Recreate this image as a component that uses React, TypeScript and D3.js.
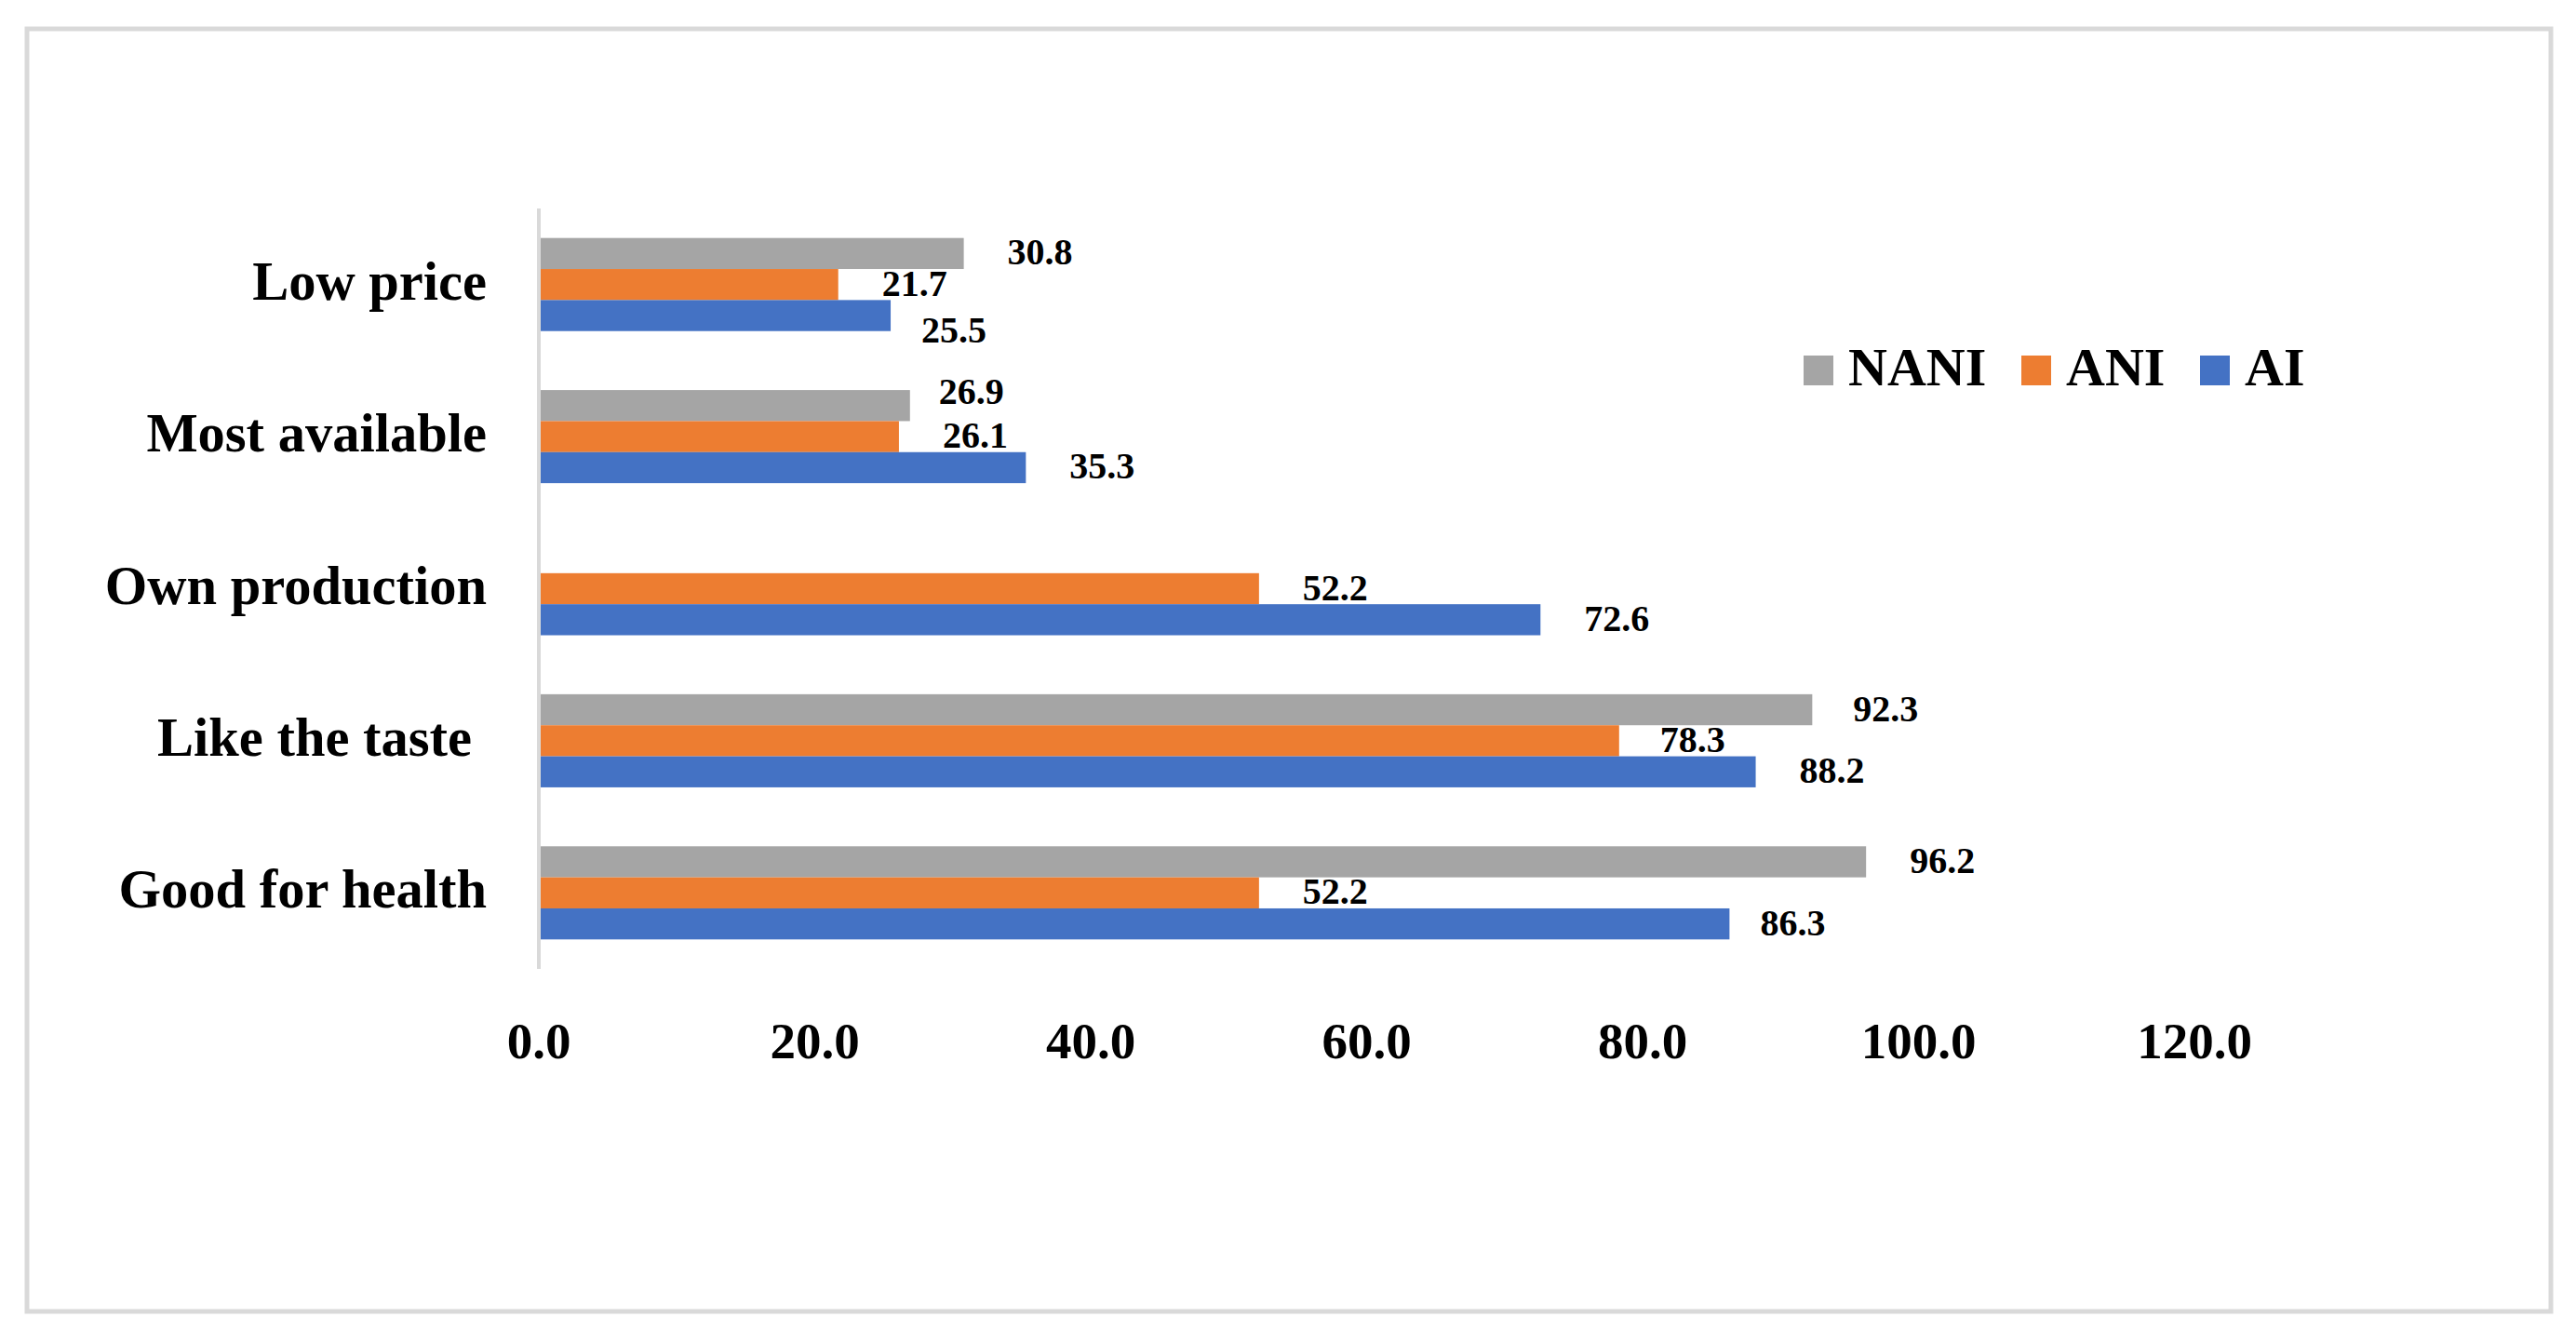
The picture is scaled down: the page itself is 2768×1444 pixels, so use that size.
import React from "react";
import * as d3 from "d3";

const categories = ["Low price", "Most available", "Own production", "Like the taste ", "Good for health"];
const seriesNames = ["NANI", "ANI", "AI"];
const naniValues: (number | null)[] = [30.8, 26.9, null, 92.3, 96.2];
const aniValues: (number | null)[] = [21.7, 26.1, 52.2, 78.3, 52.2];
const aiValues: (number | null)[] = [25.5, 35.3, 72.6, 88.2, 86.3];
const tickValues = [0, 20, 40, 60, 80, 100, 120];

const seriesColors = ["#a5a5a5", "#ed7d31", "#4472c4"];
// manual label nudges (dx, dy) seen in the reference, keyed "series|category index"
const labelNudges: Record<string, [number, number]> = {
  "AI|0": [-14, 17],
  "NANI|1": [-16, -14],
  "AI|4": [-14, 0],
  "NANI|3": [-3, 0],
  "ANI|3": [-3, 0],
};

const W = 2768;
const H = 1444;
const FONT = "'Liberation Serif', 'Times New Roman', serif";

export default function App() {
  const seriesValues = [naniValues, aniValues, aiValues];
  const x = d3.scaleLinear().domain([0, 120]).range([579, 2358]);
  const y = d3.scaleBand<string>().domain(categories).range([224, 1041]).padding(0);
  const inner = d3
    .scaleBand<string>()
    .domain(seriesNames)
    .range([0, y.bandwidth()])
    .paddingInner(0)
    .paddingOuter(0.95);
  const fmt = d3.format(".1f");

  const legendX = [1938, 2172, 2364];

  return (
    <svg
      width={W}
      height={H}
      style={{ position: "absolute", left: 0, top: 0, background: "#fff" }}
      fontFamily={FONT}
    >
      <rect x={0} y={0} width={W} height={H} fill="#fff" />
      <rect x={29} y={31} width={2712} height={1378} fill="none" stroke="#d9d9d9" strokeWidth={5} />

      {/* bars */}
      {seriesNames.map((s, si) =>
        categories.map((c, ci) => {
          const v = seriesValues[si][ci];
          if (v == null) return null;
          const by = (y(c) as number) + (inner(s) as number);
          return (
            <rect
              key={s + ci}
              x={x(0)}
              y={by}
              width={x(v) - x(0)}
              height={inner.bandwidth()}
              fill={seriesColors[si]}
            />
          );
        })
      )}

      {/* axis line */}
      <line x1={x(0)} x2={x(0)} y1={224} y2={1041} stroke="#d9d9d9" strokeWidth={4} />

      {/* data labels */}
      {seriesNames.map((s, si) =>
        categories.map((c, ci) => {
          const v = seriesValues[si][ci];
          if (v == null) return null;
          const cy = (y(c) as number) + (inner(s) as number) + inner.bandwidth() / 2;
          const n = labelNudges[s + "|" + ci] || [0, 0];
          return (
            <text
              key={"l" + s + ci}
              x={x(v) + 47 + n[0]}
              y={cy + 12 + n[1]}
              fontSize={40}
              fontWeight="bold"
              fill="#000"
            >
              {fmt(v)}
            </text>
          );
        })
      )}

      {/* category labels */}
      {categories.map((c) => (
        <text
          key={"c" + c}
          x={523 - (c.endsWith(" ") ? 16 : 0)}
          y={(y(c) as number) + y.bandwidth() / 2 + 16}
          textAnchor="end"
          fontSize={58.5}
          fontWeight="bold"
          fill="#000"
        >
          {c.trim()}
        </text>
      ))}

      {/* tick labels */}
      {tickValues.map((t) => (
        <text
          key={"t" + t}
          x={x(t)}
          y={1137}
          textAnchor="middle"
          fontSize={55}
          fontWeight="bold"
          fill="#000"
        >
          {fmt(t)}
        </text>
      ))}

      {/* legend */}
      {seriesNames.map((s, si) => (
        <g key={"lg" + s} transform={`translate(${legendX[si]},0)`}>
          <rect x={0} y={382} width={32} height={32} fill={seriesColors[si]} />
          <text x={48} y={414} fontSize={58} fontWeight="bold" fill="#000">
            {s}
          </text>
        </g>
      ))}
    </svg>
  );
}
